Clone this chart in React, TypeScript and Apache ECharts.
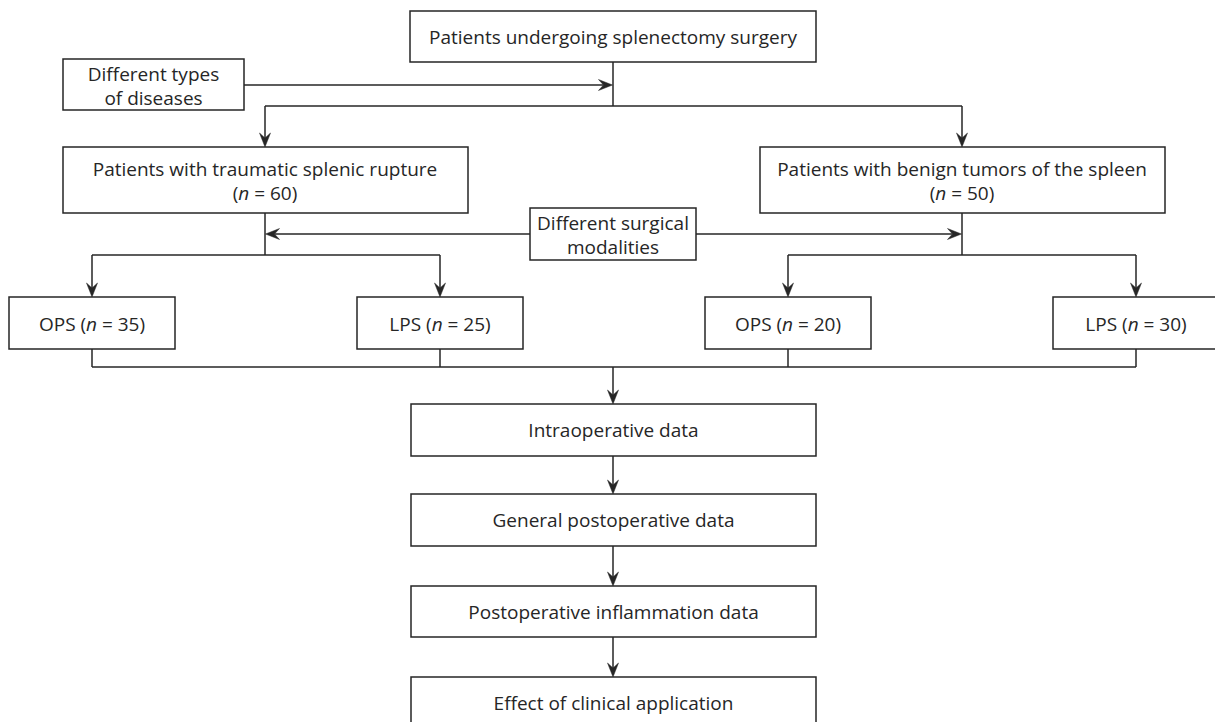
import React, { useEffect, useRef } from "react";
import * as echarts from "echarts";

// ---- content ----
const topLabel = "Patients undergoing splenectomy surgery";
const typesLabel = ["Different types", "of diseases"];
const groupLabels = ["Patients with traumatic splenic rupture", "Patients with benign tumors of the spleen"];
const groupN = [60, 50];
const modalityLabel = ["Different surgical", "modalities"];
const subgroupNames = ["OPS", "LPS", "OPS", "LPS"];
const subgroupN = [35, 25, 20, 30];
const outcomeLabels = [
  "Intraoperative data",
  "General postoperative data",
  "Postoperative inflammation data",
  "Effect of clinical application",
];

const FONT = "'Open Sans', 'Noto Sans', sans-serif";
const FS = 19;
const INK = "#262626";
const LW = 1.5;

function box(x: number, y: number, w: number, h: number): any {
  return {
    type: "rect",
    shape: { x, y, width: w, height: h },
    style: { fill: "#fff", stroke: INK, lineWidth: LW },
    z: 1,
  };
}

function label(cx: number, cy: number, text: string, lh = 24): any {
  return {
    type: "text",
    x: cx,
    y: cy,
    z: 3,
    style: {
      text,
      align: "center",
      verticalAlign: "middle",
      fontSize: FS,
      fontFamily: FONT,
      fill: INK,
      lineHeight: lh,
      rich: {
        i: { fontStyle: "italic", fontSize: FS, fontFamily: FONT, fill: INK, lineHeight: lh },
      },
    },
  };
}

function seg(x1: number, y1: number, x2: number, y2: number): any {
  return {
    type: "line",
    shape: { x1, y1, x2, y2 },
    style: { stroke: INK, lineWidth: LW },
    z: 2,
  };
}

function arrow(x1: number, y1: number, x2: number, y2: number): any[] {
  const dx = x2 - x1;
  const dy = y2 - y1;
  const len = Math.sqrt(dx * dx + dy * dy);
  const ux = dx / len;
  const uy = dy / len;
  const px = -uy;
  const py = ux;
  const L = 14;
  const N = 9;
  const W = 5.5;
  const bx = x2 - ux * L;
  const by = y2 - uy * L;
  const nx = x2 - ux * N;
  const ny = y2 - uy * N;
  return [
    seg(x1, y1, nx, ny),
    {
      type: "polygon",
      z: 2,
      shape: {
        points: [
          [x2, y2],
          [bx + px * W, by + py * W],
          [nx, ny],
          [bx - px * W, by - py * W],
        ],
      },
      style: { fill: INK, stroke: INK, lineWidth: 0.5 },
    },
  ];
}

const nText = (n: number) => `({i|n} = ${n})`;

export default function App() {
  const ref = useRef<HTMLDivElement>(null);
  useEffect(() => {
    if (!ref.current) return;
    const chart = echarts.init(ref.current, null, { renderer: "svg" });
    const g: any[] = [];

    // top box
    g.push(box(410, 11, 406, 51), label(613, 37, topLabel));
    g.push(seg(613, 62, 613, 106));
    // types box
    g.push(box(63, 59, 181, 51), label(153.5, 85.5, typesLabel.join("\n"), 24));
    g.push(...arrow(244, 85, 612.5, 85));
    // branch
    g.push(seg(265, 106, 962, 106));
    g.push(...arrow(265, 106, 265, 147));
    g.push(...arrow(962, 106, 962, 147));

    // groups
    const gx = [63, 760];
    const gc = [265, 962];
    groupLabels.forEach((t, i) => {
      g.push(box(gx[i], 147, 405, 66), label(gc[i], 180.5, t + "\n" + nText(groupN[i]), 24));
      g.push(seg(gc[i], 213, gc[i], 255));
    });

    // modality box
    g.push(box(530, 208, 166, 52), label(613, 234.5, modalityLabel.join("\n"), 24));
    g.push(...arrow(530, 234, 265.5, 234));
    g.push(...arrow(696, 234, 961.5, 234));

    // subgroup branches
    const sc = [92, 440, 788, 1136];
    g.push(seg(sc[0], 255, sc[1], 255));
    g.push(seg(sc[2], 255, sc[3], 255));
    subgroupNames.forEach((nm, i) => {
      g.push(...arrow(sc[i], 255, sc[i], 297));
      g.push(box(sc[i] - 83, 297, 166, 52), label(sc[i], 323.5, `${nm} ${nText(subgroupN[i])}`));
      g.push(seg(sc[i], 349, sc[i], 367));
    });
    g.push(seg(sc[0], 367, sc[3], 367));
    g.push(...arrow(613, 367, 613, 404));

    // outcomes
    const oy = [404, 494, 586, 677];
    const oh = [52, 52, 51, 70];
    outcomeLabels.forEach((t, i) => {
      g.push(box(411, oy[i], 405, oh[i]), label(613.5, oy[i] + 26, t));
      if (i < outcomeLabels.length - 1) {
        g.push(...arrow(613, oy[i] + oh[i], 613, oy[i + 1]));
      }
    });

    chart.setOption({ animation: false, backgroundColor: "#fff", graphic: g });
    return () => chart.dispose();
  }, []);
  return (
    <div
      ref={ref}
      style={{ position: "fixed", left: 0, top: 0, width: 1215, height: 722, background: "#fff" }}
    />
  );
}
